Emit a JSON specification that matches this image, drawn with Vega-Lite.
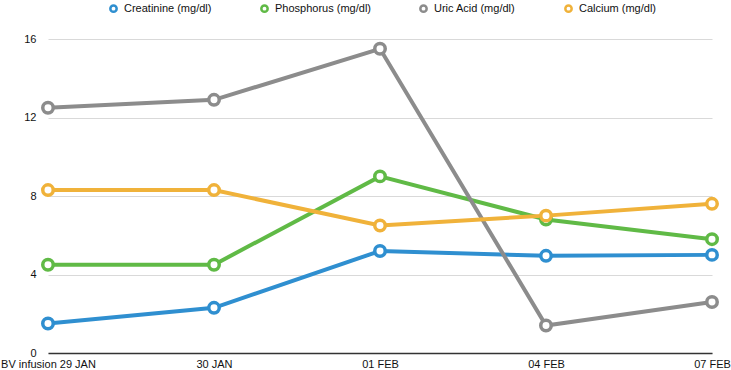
{
  "$schema": "https://vega.github.io/schema/vega-lite/v6.json",
  "width": 664,
  "height": 314,
  "autosize": "none",
  "padding": {"left": 48, "top": 39, "right": 19, "bottom": 17},
  "background": "white",
  "config": {
    "view": {"stroke": null},
    "font": "Liberation Sans"
  },
  "data": {
    "values": [
      {"date": "BV infusion 29 JAN", "series": "Creatinine (mg/dl)", "value": 1.5},
      {"date": "30 JAN", "series": "Creatinine (mg/dl)", "value": 2.3},
      {"date": "01 FEB", "series": "Creatinine (mg/dl)", "value": 5.2},
      {"date": "04 FEB", "series": "Creatinine (mg/dl)", "value": 4.95},
      {"date": "07 FEB", "series": "Creatinine (mg/dl)", "value": 5.0},
      {"date": "BV infusion 29 JAN", "series": "Phosphorus (mg/dl)", "value": 4.5},
      {"date": "30 JAN", "series": "Phosphorus (mg/dl)", "value": 4.5},
      {"date": "01 FEB", "series": "Phosphorus (mg/dl)", "value": 9.0},
      {"date": "04 FEB", "series": "Phosphorus (mg/dl)", "value": 6.8},
      {"date": "07 FEB", "series": "Phosphorus (mg/dl)", "value": 5.8},
      {"date": "BV infusion 29 JAN", "series": "Uric Acid (mg/dl)", "value": 12.5},
      {"date": "30 JAN", "series": "Uric Acid (mg/dl)", "value": 12.9},
      {"date": "01 FEB", "series": "Uric Acid (mg/dl)", "value": 15.5},
      {"date": "04 FEB", "series": "Uric Acid (mg/dl)", "value": 1.4},
      {"date": "07 FEB", "series": "Uric Acid (mg/dl)", "value": 2.6},
      {"date": "BV infusion 29 JAN", "series": "Calcium (mg/dl)", "value": 8.3},
      {"date": "30 JAN", "series": "Calcium (mg/dl)", "value": 8.3},
      {"date": "01 FEB", "series": "Calcium (mg/dl)", "value": 6.5},
      {"date": "04 FEB", "series": "Calcium (mg/dl)", "value": 7.0},
      {"date": "07 FEB", "series": "Calcium (mg/dl)", "value": 7.6}
    ]
  },
  "encoding": {
    "x": {
      "field": "date", "type": "ordinal", "sort": null,
      "scale": {"type": "point", "padding": 0},
      "axis": {
        "title": null, "labelAngle": 0, "ticks": false, "grid": false,
        "domainColor": "#333333", "domainWidth": 1.5,
        "labelFontSize": 11, "labelColor": "#111111", "labelPadding": 5
      }
    },
    "y": {
      "field": "value", "type": "quantitative",
      "scale": {"domain": [0, 16], "nice": false},
      "axis": {
        "title": null, "values": [0, 4, 8, 12, 16], "ticks": false, "domain": false,
        "gridColor": "#d9d9d9", "labelFontSize": 11, "labelColor": "#111111", "labelPadding": 12
      }
    },
    "color": {
      "field": "series", "type": "nominal", "sort": null,
      "scale": {
        "domain": ["Creatinine (mg/dl)", "Phosphorus (mg/dl)", "Uric Acid (mg/dl)", "Calcium (mg/dl)"],
        "range": ["#2f8fd0", "#60ba46", "#8c8c8c", "#f0b23a"]
      },
      "legend": {
        "title": null, "orient": "none", "direction": "horizontal",
        "legendX": 60, "legendY": -36, "columns": 4,
        "symbolType": "circle", "symbolSize": 40, "symbolStrokeWidth": 2.5,
        "symbolFillColor": "white", "labelFontSize": 11, "labelColor": "#111111",
        "columnPadding": 44, "labelOffset": 5
      }
    }
  },
  "layer": [
    {"mark": {"type": "line", "strokeWidth": 4}},
    {"mark": {"type": "point", "filled": false, "fill": "white", "size": 110, "strokeWidth": 3.5, "opacity": 1}}
  ]
}
